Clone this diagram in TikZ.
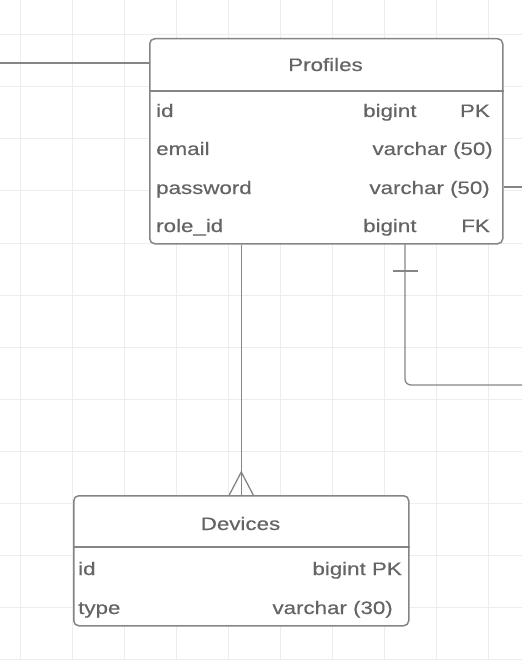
\documentclass[tikz,border=0pt]{standalone}
\usepackage{fontspec}
\setmainfont{Liberation Sans}[FakeStretch=1.24,FakeBold=0.4]
\usepackage{tikz}
\usetikzlibrary{positioning,calc}
\definecolor{gridgray}{HTML}{EDEDED}
\definecolor{linegray}{HTML}{858585}
\definecolor{textgray}{HTML}{646464}
\tikzset{
  gridline/.style={draw=gridgray, line width=1pt},
  tablebox/.style={draw=linegray, line width=1.5pt, rounded corners=5pt, fill=white, inner sep=0, anchor=north west},
  tableline/.style={draw=linegray, line width=1.5pt},
  relation/.style={draw=linegray, line width=1.3pt},
  field/.style={text=textgray, font=\fontsize{18}{21}\selectfont, inner sep=0}
}

\begin{document}
\begin{tikzpicture}[x=1pt,y=-1pt]
    \useasboundingbox (0,0) rectangle (522,660);
    % background grid
    \foreach \gx in {20,72,...,488} \draw[gridline] (\gx,0) -- (\gx,660);
    \foreach \gy in {35,87,...,659} \draw[gridline] (0,\gy) -- (522,\gy);

    % free ends of the connectors
    \coordinate (leftend) at (0,63);
    \coordinate (rightend) at (522,187);
    \coordinate (roleend) at (522,385);
    \coordinate (rolefk) at (405,243);

    % Profiles table
    \node[tablebox, minimum width=353, minimum height=205] (profiles) at (149,38) {};
    \draw[tableline] ($(profiles.north west)+(0,53)$) -- ($(profiles.north east)+(0,53)$);
    \node[field, anchor=base] (ptitle) at (325.5,71) {Profiles};
    \node[field, anchor=base west] (pid) at (156,117) {id};
    \node[field, anchor=base west] (pidtype) at (363,117) {bigint};
    \node[field, anchor=base east] (pidkey) at (490,117) {PK};
    \node[field, anchor=base west] (pemail) at (156,155) {email};
    \node[field, anchor=base east] (pemailtype) at (493,155) {varchar (50)};
    \node[field, anchor=base west] (ppass) at (156,194) {password};
    \node[field, anchor=base east] (ppasstype) at (490,194) {varchar (50)};
    \node[field, anchor=base west] (prole) at (156,232) {role\_id};
    \node[field, anchor=base west] (proletype) at (363,232) {bigint};
    \node[field, anchor=base east] (prolekey) at (490,232) {FK};

    % Devices table
    \node[tablebox, minimum width=335, minimum height=130] (devices) at (73,495) {};
    \draw[tableline] ($(devices.north west)+(0,52)$) -- ($(devices.north east)+(0,52)$);
    \node[field, anchor=base] (dtitle) at (240.5,530) {Devices};
    \node[field, anchor=base west] (did) at (78,575) {id};
    \node[field, anchor=base east] (didtype) at (402,575) {bigint PK};
    \node[field, anchor=base west] (dtype) at (78,614) {type};
    \node[field, anchor=base east] (dtypetype) at (393,614) {varchar (30)};

    % relations
    \draw[relation] (leftend) -- (leftend -| profiles.west);
    \draw[relation] (rightend -| profiles.east) -- (rightend);
    \draw[relation] (devices.north |- profiles.south) -- (devices.north);
    \draw[relation] ($(devices.north)+(-12,0)$) -- ++(12,-23) -- ++(12,23);
    \draw[relation, rounded corners=6pt] (rolefk) -- (rolefk |- roleend) -- (roleend);
    \draw[relation] (rolefk) ++(-12,28) -- ++(25,0);
\end{tikzpicture}
\end{document}
